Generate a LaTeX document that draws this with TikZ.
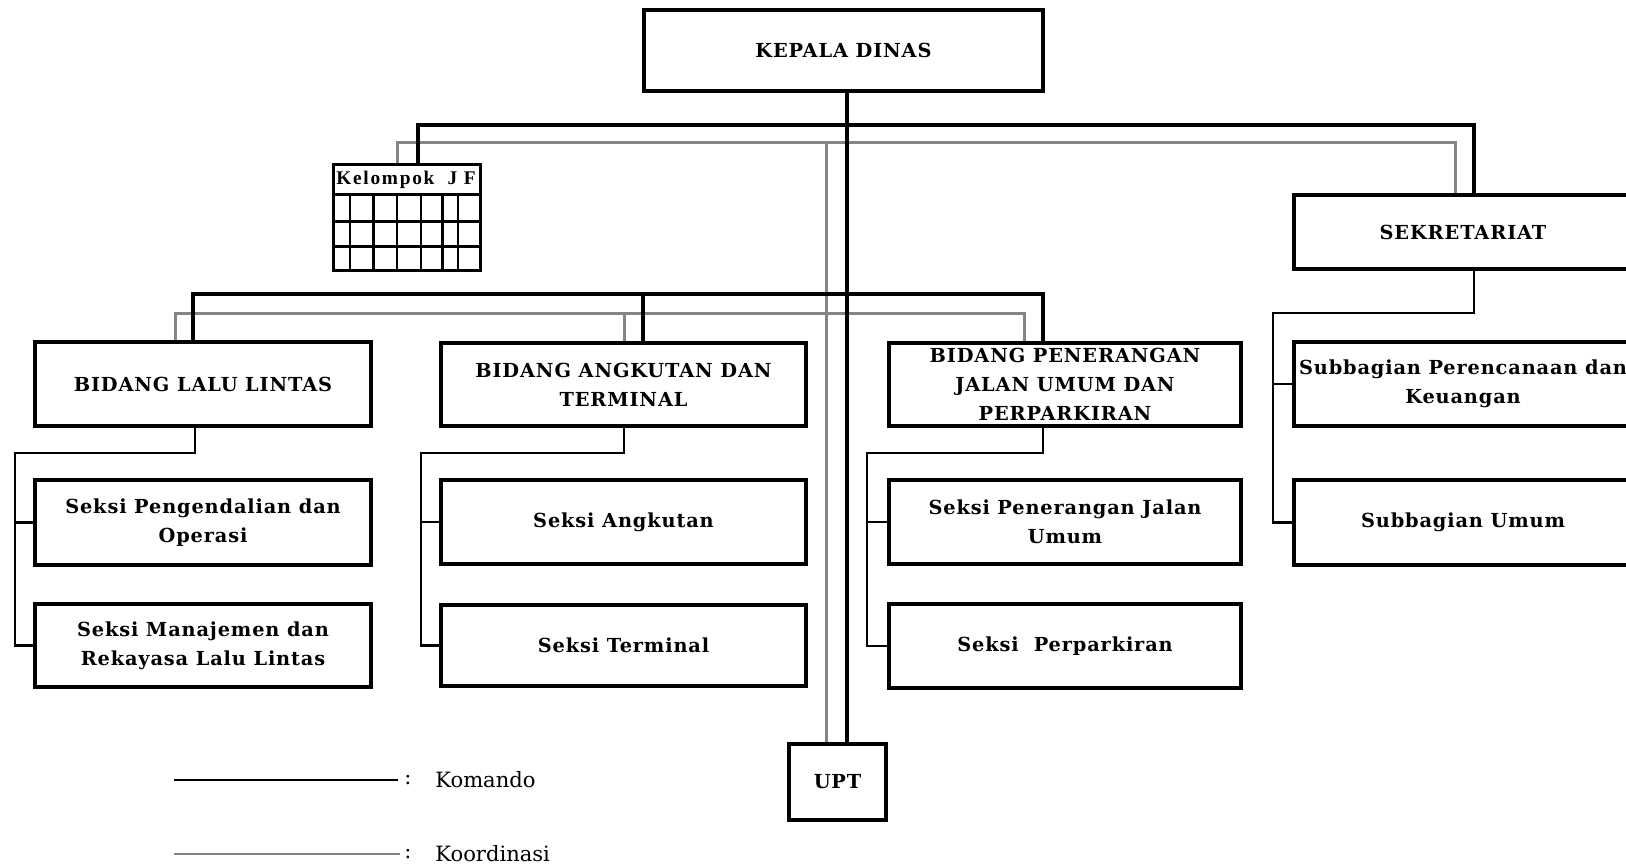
\documentclass[tikz,border=0pt]{standalone}
\usepackage{fontspec}
\setmainfont{DejaVu Serif}
\newfontfamily\boxfam[LetterSpace=4.5]{DejaVu Serif}
\newfontfamily\jffont[LetterSpace=9]{Liberation Serif}
\usetikzlibrary{calc}

\definecolor{coordgray}{rgb}{0.52,0.52,0.52}
\newcommand{\boxfont}{\boxfam\bfseries\fontsize{11}{16.5}\selectfont}

\tikzset{
  cmd/.style={line width=0.085cm, black},
  coordline/.style={line width=0.06cm, draw=coordgray},
  branch/.style={line width=0.05cm, black},
  orgbox/.style={draw, rectangle, line width=0.085cm, inner sep=0pt, align=center,
                 font=\boxfont, fill=white},
  leftcol/.style={orgbox, minimum width=6.72cm},
  midcol/.style={orgbox, minimum width=7.30cm},
  rightcol/.style={orgbox, minimum width=7.04cm},
  seccol/.style={orgbox, minimum width=6.76cm},
  gridthick/.style={line width=0.06cm},
  gridthin/.style={line width=0.035cm},
  legendtext/.style={font=\fontsize{12}{14}\selectfont, inner sep=0pt}
}

\begin{document}
\begin{tikzpicture}[x=0.02cm, y=-0.02cm]
\useasboundingbox (0,0) rectangle (1626,864);
\clip (0,0) rectangle (1626,864);

% ---- boxes ----
\node[orgbox, minimum width=7.98cm, minimum height=1.62cm] (kd) at (843.5,50.5) {KEPALA DINAS};
\node[seccol, minimum height=1.48cm] (sek) at (1463,232) {SEKRETARIAT};

\node[leftcol, minimum height=1.68cm] (lalu) at (203,384) {BIDANG LALU LINTAS};
\node[midcol, minimum height=1.66cm] (angk) at (623.5,384.5) {BIDANG ANGKUTAN DAN\\TERMINAL};
\node[rightcol, minimum height=1.66cm] (jalan) at (1065,384.5) {BIDANG PENERANGAN\\JALAN UMUM DAN\\PERPARKIRAN};
\node[seccol, minimum height=1.68cm] (perenc) at (1463,384) {Subbagian Perencanaan dan\\Keuangan};

\node[leftcol, minimum height=1.70cm] (s1) at (203,522.5) {Seksi Pengendalian dan\\Operasi};
\node[leftcol, minimum height=1.66cm] (s2) at (203,645.5) {Seksi Manajemen dan\\Rekayasa Lalu Lintas};
\node[midcol, minimum height=1.68cm] (s3) at (623.5,522) {Seksi Angkutan};
\node[midcol, minimum height=1.62cm] (s4) at (623.5,645.5) {Seksi Terminal};
\node[rightcol, minimum height=1.68cm] (s5) at (1065,522) {Seksi Penerangan Jalan\\Umum};
\node[rightcol, minimum height=1.68cm] (s6) at (1065,646) {Seksi\ \ Perparkiran};
\node[seccol, minimum height=1.70cm] (umum) at (1463,522.5) {Subbagian Umum};

\node[orgbox, minimum width=1.94cm, minimum height=1.52cm] (upt) at (837.5,782) {UPT};

% ---- functional group table ----
\node[draw, rectangle, line width=0.06cm, inner sep=0pt, minimum width=2.94cm,
      minimum height=2.12cm, fill=white] (jf) at (407,217.5) {};
\node[font=\jffont\bfseries\fontsize{11}{12}\selectfont, inner sep=0pt] (jft) at (406,179.5) {Kelompok~~J~F};
\coordinate (r1) at (0,195);
\coordinate (r2) at (0,222);
\coordinate (r3) at (0,247);
\draw[gridthick] (jf.west |- r1) -- (jf.east |- r1);
\draw[gridthick] (jf.west |- r2) -- (jf.east |- r2);
\draw[gridthick] (jf.west |- r3) -- (jf.east |- r3);
\foreach \cx/\w in {350/gridthin, 373/gridthick, 397/gridthin, 421/gridthin, 442/gridthick, 458/gridthin}
  \draw[\w] (\cx,195) -- (\cx,272);

% ---- coordination lines ----
\coordinate (c1w) at (397,143);
\coordinate (c1e) at (1455,143);
\coordinate (cv) at (826,143);
\draw[coordline] (c1w |- jf.north) -- (c1w) -- (c1e) -- (c1e |- sek.north);
\draw[coordline] (cv) -- (cv |- upt.north);
\coordinate (c2w) at (175,314);
\coordinate (c2m) at (624,314);
\coordinate (c2e) at (1024,314);
\draw[coordline] (c2w |- lalu.north) -- (c2w) -- (c2e) -- (c2e |- jalan.north);
\draw[coordline] (c2m) -- (c2m |- angk.north);

% ---- command lines ----
\coordinate (k1w) at (418,125);
\coordinate (k1e) at (1474,125);
\draw[cmd] (k1w |- jf.north) -- (k1w) -- (k1e) -- (k1e |- sek.north);
\coordinate (kv) at (847,0);
\draw[cmd] (kv |- kd.south) -- (kv |- upt.north);
\coordinate (k2w) at (193,294);
\coordinate (k2m) at (643,294);
\coordinate (k2e) at (1043,294);
\draw[cmd] (k2w |- lalu.north) -- (k2w) -- (k2e) -- (k2e |- jalan.north);
\draw[cmd] (k2m) -- (k2m |- angk.north);

% ---- branches to sections ----
\coordinate (lb) at (195,453);
\coordinate (lx) at (15,0);
\draw[branch] (lb |- lalu.south) -- (lb) -| (lx |- s2.west) -- (s2.west);
\draw[branch] (lx |- s1.west) -- (s1.west);

\coordinate (ab) at (624,453);
\coordinate (ax) at (421,0);
\draw[branch] (ab |- angk.south) -- (ab) -| (ax |- s4.west) -- (s4.west);
\draw[branch] (ax |- s3.west) -- (s3.west);

\coordinate (jb) at (1043,453);
\coordinate (jx) at (867,0);
\draw[branch] (jb |- jalan.south) -- (jb) -| (jx |- s6.west) -- (s6.west);
\draw[branch] (jx |- s5.west) -- (s5.west);

\coordinate (sb) at (1474,313);
\coordinate (sx) at (1273,0);
\draw[branch] (sb |- sek.south) -- (sb) -| (sx |- umum.west) -- (umum.west);
\draw[branch] (sx |- perenc.west) -- (perenc.west);

% ---- legend ----
\coordinate (la1) at (174,780);
\coordinate (la2) at (398,780);
\draw[line width=0.04cm] (la1) -- (la2);
\node[legendtext, anchor=west] (lc1) at (404,780) {:};
\node[legendtext, anchor=west] (lt1) at (435,780) {Komando};
\coordinate (lb1) at (174,854);
\coordinate (lb2) at (400,854);
\draw[line width=0.035cm, coordgray] (lb1) -- (lb2);
\node[legendtext, anchor=west] (lc2) at (404,854) {:};
\node[legendtext, anchor=west] (lt2) at (435,854) {Koordinasi};
\end{tikzpicture}
\end{document}
